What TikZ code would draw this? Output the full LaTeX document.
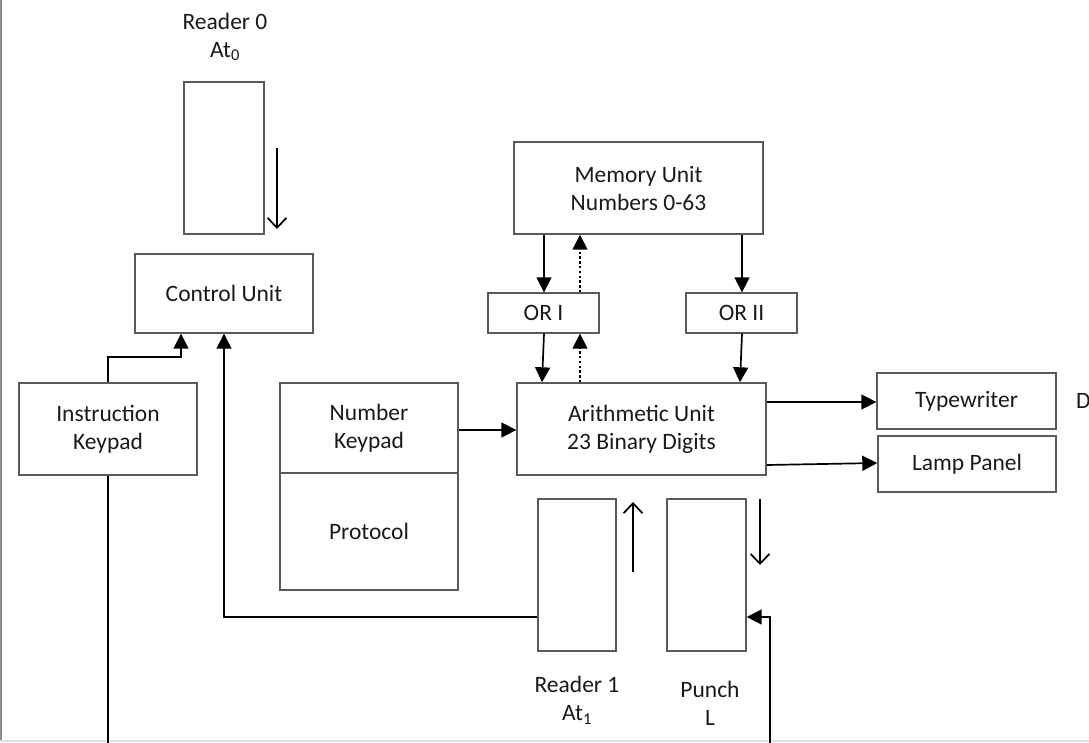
\documentclass[tikz,border=0pt]{standalone}
\usepackage{fontspec}
\setmainfont{Carlito}
\usetikzlibrary{arrows.meta}
\definecolor{boxc}{HTML}{5A5A5A}
\definecolor{txtc}{HTML}{1A1A1A}
\tikzset{
  box/.style={draw=boxc, line width=1.4pt, rectangle, inner sep=0pt, align=center, text=txtc},
  lab/.style={inner sep=0pt, align=center, text=txtc},
  conn/.style={draw=black, line width=1.7pt, -{Triangle[length=15pt,width=15pt]}},
  dotconn/.style={conn, dash pattern=on 2.4pt off 2.4pt},
  tape/.style={draw=black, line width=1.7pt, -{Straight Barb[length=10pt,width=19pt,line width=1.7pt]}},
}
\begin{document}
\begin{tikzpicture}[x=1pt,y=-1pt,font=\fontsize{23.5}{28}\selectfont]
\useasboundingbox (0,0) rectangle (1089,742);
\fill[white] (0,0) rectangle (1089,742);
\begin{scope}
\clip (0,0) rectangle (1089,742);
% frame edges
\draw[color=gray!90, line width=2.2pt] (1,0) -- (1,742);
\draw[color=black!12, line width=1.2pt] (0,741) -- (1089,741);

% boxes
\node[box, minimum width=80pt, minimum height=152pt] (r0) at (224,158) {};
\node[box, minimum width=178pt, minimum height=79pt] (cu) at (224,293.5) {Control Unit};
\node[box, minimum width=249pt, minimum height=92pt] (mem) at (638.5,188) {Memory Unit\\Numbers 0-63};
\node[box, minimum width=111pt, minimum height=40pt] (or1) at (543.5,313) {OR I};
\node[box, minimum width=111pt, minimum height=40pt] (or2) at (741.5,313) {OR II};
\node[box, minimum width=249pt, minimum height=92pt] (au) at (641.5,429) {Arithmetic Unit\\23 Binary Digits};
\node[box, minimum width=179pt, minimum height=56pt] (tw) at (966.5,401) {Typewriter};
\node[box, minimum width=178pt, minimum height=56pt] (lp) at (967,464) {Lamp Panel};
\node[box, minimum width=178pt, minimum height=90pt] (nk) at (369,428) {Number\\Keypad};
\node[box, minimum width=178pt, minimum height=117pt] (pr) at (369,531.5) {Protocol};
\node[box, minimum width=178pt, minimum height=92pt] (ik) at (108,429) {Instruction\\Keypad};
\node[box, minimum width=78pt, minimum height=152pt] (r1) at (577,575) {};
\node[box, minimum width=79pt, minimum height=152pt] (pu) at (706.5,575) {};

% labels
\node[lab] (r0lab) at (225,37) {Reader 0\\At\textsubscript{0}};
\node[lab] (r1lab) at (577,700) {Reader 1\\At\textsubscript{1}};
\node[lab] (pulab) at (710,703) {Punch\\L};
\node[lab, anchor=base west] (dlab) at (1076,408) {D};

% tape motion arrows
\coordinate (t0a) at (277,148); \coordinate (t0b) at (277,229);
\draw[tape] (t0a) -- (t0b);
\coordinate (t1a) at (633,572); \coordinate (t1b) at (633,502);
\draw[tape] (t1a) -- (t1b);
\coordinate (t2a) at (760,499); \coordinate (t2b) at (760,565);
\draw[tape] (t2a) -- (t2b);

% connectors
\draw[conn] (544,0 |- mem.south) -- (544,0 |- or1.north);
\draw[dotconn] (580,0 |- or1.north) -- (580,0 |- mem.south);
\draw[conn] (742,0 |- mem.south) -- (742,0 |- or2.north);
\draw[conn] (544,0 |- or1.south) -- (542,0 |- au.north);
\draw[dotconn] (580,0 |- au.north) -- (580,0 |- or1.south);
\draw[conn] (742,0 |- or2.south) -- (740,0 |- au.north);
\draw[conn] (nk.east |- 0,430) -- (au.west |- 0,430);
\draw[conn] (au.east |- 0,402) -- (tw.west |- 0,402);
\draw[conn] (au.east |- 0,465) -- (lp.west |- 0,463);
\draw[conn] (ik.north) -- ++(0,-25) -| ([xshift=-43pt]cu.south);
\draw[conn] (r1.west |- 0,617) -| (cu.south);
\draw[conn] (ik.south) -- (108,760) -- (770,760) |- (pu.east |- 0,617);
\end{scope}
\end{tikzpicture}
\end{document}
